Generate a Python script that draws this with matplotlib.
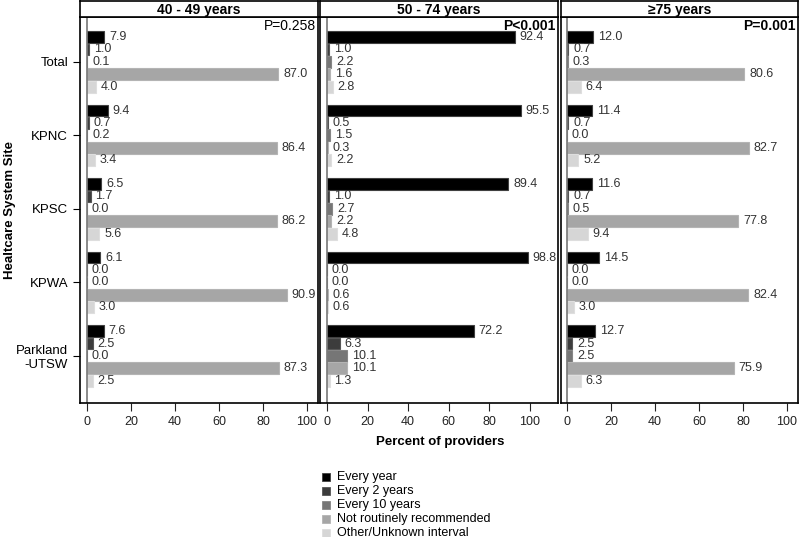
import matplotlib.pyplot as plt
import numpy as np

plt.rcParams['font.family'] = ['Liberation Sans', 'DejaVu Sans']

sites = ['Total', 'KPNC', 'KPSC', 'KPWA', 'Parkland\n-UTSW']
panels = ['40 - 49 years', '50 - 74 years', '\u226575 years']
pvals = ['P=0.258', 'P<0.001', 'P=0.001']
p_bold = [False, True, True]
intervals = ['Every year', 'Every 2 years', 'Every 10 years',
             'Not routinely recommended', 'Other/Unknown interval']
colors = ['#000000', '#3c3c3c', '#767676', '#a6a6a6', '#d6d6d6']
edges = ['#404040', '#555555', '#868686', '#b4b4b4', '#dedede']

# values[site] = [every year, every 2, every 10, not routinely, other]
age_40_49 = [[7.9, 1.0, 0.1, 87.0, 4.0],
             [9.4, 0.7, 0.2, 86.4, 3.4],
             [6.5, 1.7, 0.0, 86.2, 5.6],
             [6.1, 0.0, 0.0, 90.9, 3.0],
             [7.6, 2.5, 0.0, 87.3, 2.5]]
age_50_74 = [[92.4, 1.0, 2.2, 1.6, 2.8],
             [95.5, 0.5, 1.5, 0.3, 2.2],
             [89.4, 1.0, 2.7, 2.2, 4.8],
             [98.8, 0.0, 0.0, 0.6, 0.6],
             [72.2, 6.3, 10.1, 10.1, 1.3]]
age_75_up = [[12.0, 0.7, 0.3, 80.6, 6.4],
             [11.4, 0.7, 0.0, 82.7, 5.2],
             [11.6, 0.7, 0.5, 77.8, 9.4],
             [14.5, 0.0, 0.0, 82.4, 3.0],
             [12.7, 2.5, 2.5, 75.9, 6.3]]
data = [age_40_49, age_50_74, age_75_up]

fig = plt.figure(figsize=(8, 5.37), dpi=100)
W, H = 800, 537
lefts = [80, 320, 561]
rights = [318, 558, 798]
xlims = [(-3.2, 105), (-3.4, 113.8), (-2.7, 105)]
top_px, head_px, bot_px = 1, 17, 403

step = 0.169
bh = 0.16
for i in range(3):
    l, r = lefts[i] / W, rights[i] / W
    ax = fig.add_axes([l, 1 - bot_px / H, r - l, (bot_px - head_px) / H])
    hx = fig.add_axes([l, 1 - head_px / H, r - l, (head_px - top_px) / H])
    hx.set_xticks([])
    hx.set_yticks([])
    hx.text(0.5, 0.45, panels[i], ha='center', va='center', fontsize=10,
            fontweight='bold', transform=hx.transAxes)
    for s in hx.spines.values():
        s.set_linewidth(1.2)

    span = xlims[i][1] - xlims[i][0]
    vals = np.array(data[i])
    for k in range(5):
        y = np.arange(5) + (k - 2) * step
        ax.barh(y, vals[:, k], height=bh, color=colors[k], edgecolor=edges[k],
                linewidth=0.8)
        for yy, v in zip(y, vals[:, k]):
            ax.text(v + span * 0.02, yy, '%.1f' % v, va='center', ha='left',
                    fontsize=9, color='#333333')
    ax.axvline(0, color='#777777', linewidth=1.2)
    ax.set_xlim(*xlims[i])
    ax.set_ylim(4.64, -0.61)
    ax.set_xticks(range(0, 101, 20))
    ax.tick_params(axis='x', length=6, labelsize=9, colors='#222222')
    ax.text(0.99, 0.995, pvals[i], transform=ax.transAxes, ha='right', va='top',
            fontsize=10, fontweight='bold' if p_bold[i] else 'normal')
    for s in ax.spines.values():
        s.set_linewidth(1.2)
    if i == 0:
        ax.set_yticks(range(5))
        ax.set_yticklabels(sites, fontsize=9.5)
        ax.tick_params(axis='y', length=5)
    else:
        ax.set_yticks([])

fig.text(10 / W, 1 - 210 / H, 'Healtcare System Site', rotation=90,
         ha='center', va='center', fontsize=9.5, fontweight='bold')
fig.text(440 / W, 1 - 442 / H, 'Percent of providers', ha='center',
         va='center', fontsize=9.5, fontweight='bold')

for k in range(5):
    y = 1 - (477 + k * 14) / H
    fig.patches.append(plt.Rectangle((322 / W, y - 4 / H), 8 / W, 8 / H,
                                     transform=fig.transFigure,
                                     facecolor=colors[k], edgecolor=edges[k],
                                     linewidth=0.6))
    fig.text(337 / W, y, intervals[k], ha='left', va='center', fontsize=9)

fig.savefig('out.png', dpi=100)
